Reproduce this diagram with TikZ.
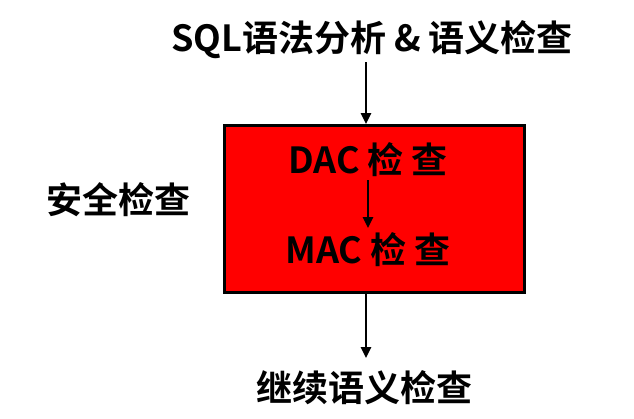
\documentclass[tikz,border=0pt]{standalone}
\usepackage{fontspec}
\setmainfont{Noto Sans CJK SC}[BoldFont={* Bold}]
\usetikzlibrary{arrows.meta}
\tikzset{lbl/.style={font=\fontsize{36}{38}\selectfont\bfseries, inner sep=0pt},
  arr/.style={-{Triangle[length=11pt,width=10pt]}, line width=2.5pt}}
\begin{document}
\begin{tikzpicture}[x=1pt,y=-1pt]
\useasboundingbox (0,0) rectangle (634,418);
\node[lbl] (top) at (372,40) {SQL语法分析 \& 语义检查};
\node[draw=black, line width=3pt, fill=red, minimum width=300pt, minimum height=167pt, inner sep=0pt] (box) at (374.5,209) {};
\node[lbl] (dac) at (368,160) {DAC 检 查};
\node[lbl] (mac) at (368,250) {MAC 检 查};
\node[lbl] (sec) at (118,200) {安全检查};
\node[lbl] (cont) at (364,388) {继续语义检查};
\draw[arr] (366,62) -- (box.north -| 366,0);
\draw[arr] (368,180) -- (368,228);
\draw[arr] (box.south -| 366,0) -- (366,358);
\end{tikzpicture}
\end{document}
